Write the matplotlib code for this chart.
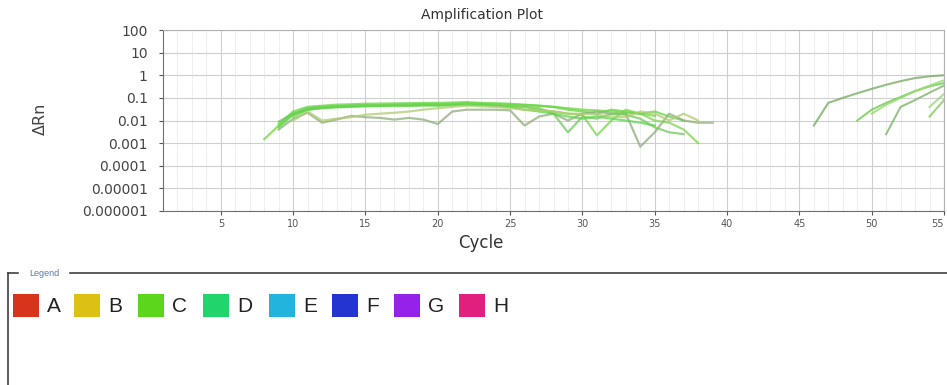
import numpy as np
import matplotlib.pyplot as plt
from matplotlib.patches import Rectangle
from matplotlib.lines import Line2D

plt.rcParams['font.family'] = ['DejaVu Sans']

# early amplification traces: (start cycle, delta Rn per cycle)
early_starts = [8, 9, 9, 9, 10, 9, 10]
early_values = [
    [0.0015, 0.006, 0.02, 0.032, 0.038, 0.042, 0.045, 0.047, 0.048, 0.05, 0.05, 0.052, 0.053, 0.055,
     0.058, 0.055, 0.052, 0.05, 0.048, 0.045, 0.04, 0.035, 0.03, 0.028, 0.025, 0.022, 0.02, 0.016],
    [0.007, 0.025, 0.04, 0.045, 0.05, 0.052, 0.055, 0.056, 0.057, 0.058, 0.06, 0.06, 0.062, 0.065,
     0.06, 0.058, 0.055, 0.05, 0.045, 0.04, 0.03, 0.025, 0.02, 0.03, 0.025, 0.02, 0.025, 0.015, 0.01],
    [0.004, 0.012, 0.022, 0.008, 0.011, 0.016, 0.014, 0.013, 0.011, 0.013, 0.011, 0.007, 0.025, 0.03,
     0.03, 0.03, 0.028, 0.006, 0.015, 0.02, 0.01, 0.02, 0.025, 0.02, 0.02, 0.0007, 0.003, 0.02, 0.01,
     0.008, 0.008],
    [0.009, 0.02, 0.035, 0.04, 0.043, 0.045, 0.046, 0.047, 0.048, 0.05, 0.05, 0.048, 0.05, 0.052,
     0.05, 0.045, 0.042, 0.04, 0.035, 0.02, 0.003, 0.015, 0.012, 0.02, 0.018, 0.012, 0.005, 0.003, 0.0025],
    [0.015, 0.03, 0.036, 0.04, 0.042, 0.045, 0.045, 0.046, 0.047, 0.048, 0.05, 0.052, 0.05, 0.05,
     0.048, 0.045, 0.04, 0.03, 0.025, 0.02, 0.018, 0.0022, 0.01, 0.03, 0.02, 0.01, 0.008, 0.004, 0.001],
    [0.005, 0.018, 0.03, 0.035, 0.038, 0.04, 0.042, 0.044, 0.045, 0.044, 0.046, 0.045, 0.048, 0.05,
     0.048, 0.045, 0.04, 0.03, 0.025, 0.02, 0.015, 0.012, 0.015, 0.012, 0.01, 0.008, 0.006],
    [0.01, 0.025, 0.01, 0.012, 0.014, 0.018, 0.02, 0.022, 0.025, 0.03, 0.035, 0.04, 0.045, 0.042,
     0.04, 0.035, 0.03, 0.028, 0.025, 0.02, 0.02, 0.018, 0.015, 0.014, 0.025, 0.02, 0.01, 0.02, 0.01],
]
early_colors = ['#6ed63e', '#62d83e', '#8fae7c', '#74c860', '#7ed452', '#58d846', '#b0cc72']

# late traces
late_starts = [46, 49, 51, 50, 54, 54]
late_values = [
    [0.006, 0.06, 0.1, 0.16, 0.25, 0.38, 0.55, 0.75, 0.9, 1.0],
    [0.01, 0.03, 0.06, 0.11, 0.2, 0.32, 0.45],
    [0.0025, 0.04, 0.08, 0.17, 0.35],
    [0.02, 0.05, 0.1, 0.2, 0.35, 0.6],
    [0.015, 0.08],
    [0.04, 0.15],
]
late_colors = ['#7aae64', '#74c852', '#80b66c', '#94dc6e', '#86cc62', '#9cd87c']

y_ticks = [1e2, 1e1, 1, 0.1, 0.01, 0.001, 0.0001, 0.00001, 0.000001]
y_labels = ['100', '10', '1', '0.1', '0.01', '0.001', '0.0001', '0.00001', '0.000001']
x_ticks = [5, 10, 15, 20, 25, 30, 35, 40, 45, 50, 55]

legend_names = ['A', 'B', 'C', 'D', 'E', 'F', 'G', 'H']
legend_colors = ['#d8341c', '#dcc014', '#5cd61c', '#22d46c', '#22b4dc', '#2434d0', '#9422e8', '#e0207c']

W, H = 947, 385
fig = plt.figure(figsize=(W / 100, H / 100), dpi=100)
fig.patch.set_facecolor('white')
ax = fig.add_axes([163 / W, 1 - 211 / H, (944 - 163) / W, 181 / H])

for start, vals, col in zip(early_starts, early_values, early_colors):
    cyc = np.arange(start, start + len(vals))
    ax.plot(cyc, vals, color=col, lw=1.6, alpha=0.75)
for start, vals, col in zip(late_starts, late_values, late_colors):
    cyc = np.arange(start, start + len(vals))
    ax.plot(cyc, vals, color=col, lw=1.5, alpha=0.8)

ax.set_yscale('log')
ax.set_xlim(1, 55)
ax.set_ylim(1e-6, 1e2)
ax.set_yticks(y_ticks)
ax.set_yticklabels(y_labels)
ax.set_xticks(x_ticks)
ax.set_xticks(np.arange(1, 56), minor=True)
ax.tick_params(axis='y', which='major', labelsize=10, colors='#555555', labelcolor='#444444',
               length=3, pad=8)
ax.tick_params(axis='y', which='minor', length=0)
ax.tick_params(axis='x', which='major', labelsize=7, colors='#555555', labelcolor='#555555', length=3, pad=3)
ax.tick_params(axis='x', which='minor', length=0)
ax.get_xticklabels()[-1].set_horizontalalignment('right')
ax.grid(True, which='major', color='#cfcfcf', lw=0.8)
ax.grid(True, which='minor', color='#e2e2e2', lw=0.6, ls=(0, (2, 1)))
ax.set_axisbelow(True)
for side in ['left', 'bottom']:
    ax.spines[side].set_color('#707070')
for side in ['top', 'right']:
    ax.spines[side].set_color('#b0b0b0')

fig.text(482 / W, 1 - 15 / H, 'Amplification Plot', ha='center', va='center', fontsize=10, color='#333333')
fig.text(481 / W, 1 - 243 / H, 'Cycle', ha='center', va='center', fontsize=12, color='#333333')
fig.text(40 / W, 1 - 119 / H, 'ΔRn', ha='center', va='center', rotation=90, fontsize=11.5, color='#444444')

# legend frame
frame_y = 1 - 273 / H
fig.add_artist(Line2D([8 / W, 8 / W], [0, frame_y], color='#404040', lw=1.2))
fig.add_artist(Line2D([8 / W, 18 / W], [frame_y, frame_y], color='#404040', lw=1.2))
fig.add_artist(Line2D([70 / W, 1], [frame_y, frame_y], color='#404040', lw=1.2))
fig.text(44 / W, frame_y, 'Legend', ha='center', va='center', fontsize=6.5, color='#5a7aa8',
         family='Liberation Sans')

patch_x = [13, 74, 138, 203, 269, 332, 394, 459]
for px, name, col in zip(patch_x, legend_names, legend_colors):
    fig.add_artist(Rectangle((px / W, 1 - 317 / H), 26 / W, 23 / H, facecolor=col, edgecolor='none'))
    fig.text((px + 34) / W, 1 - 306 / H, name, ha='left', va='center', fontsize=15, color='#222222',
             family='Liberation Sans')

fig.savefig('out.png', dpi=100)
